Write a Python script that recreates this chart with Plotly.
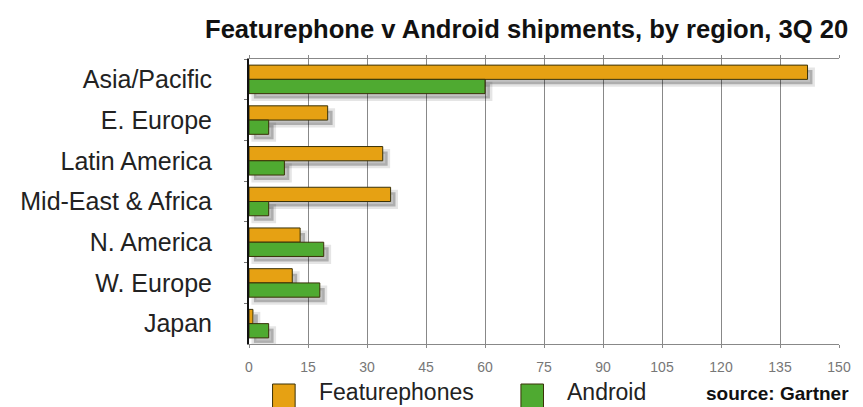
import plotly.graph_objects as go

# ---- data ----
regions = ["Asia/Pacific", "E. Europe", "Latin America", "Mid-East & Africa",
           "N. America", "W. Europe", "Japan"]
featurephones = [142, 20, 34, 36, 13, 11, 1]
android = [60, 5, 9, 5, 19, 18, 5]
series_names = ["Featurephones", "Android"]
x_ticks = [0, 15, 30, 45, 60, 75, 90, 105, 120, 135, 150]
title_text = "Featurephone v Android shipments, by region, 3Q 20"
source_text = "source: Gartner"

# ---- styling ----
W, H = 863, 407
ML, MR, MT, MB = 249, 13, 59, 63
PW, PH = W - ML - MR, H - MT - MB
FONT = "Liberation Sans, Arial, Helvetica, sans-serif"
ORANGE = "#E6A113"
GREEN = "#4FAA31"
SHADOW = "rgba(0,0,0,0.24)"
SHADOW_EDGE = "rgba(0,0,0,0.10)"

def px2x(px):
    return (px - ML) / PW

def px2y(py):
    return (H - MB - py) / PH

xmax = 150.0
ncat = len(regions)
dx_units = 5 * xmax / PW          # shadow offset: 5px right
dy_units = 5 * ncat / PH          # shadow offset: 5px down

fig = go.Figure()

# shadows (base axes, drawn first / underneath)
for vals in (featurephones, android):
    fig.add_trace(go.Bar(
        y=regions, x=vals, orientation="h", xaxis="x", yaxis="y",
        marker=dict(color=SHADOW, line=dict(color=SHADOW_EDGE, width=5)),
        showlegend=False, hoverinfo="skip",
    ))

# main bars (overlay axes)
for name, vals, col in zip(series_names, (featurephones, android), (ORANGE, GREEN)):
    fig.add_trace(go.Bar(
        y=regions, x=vals, orientation="h", name=name, xaxis="x2", yaxis="y2",
        marker=dict(color=col, line=dict(color="#3a3208", width=1)),
        showlegend=False,
    ))

fig.update_layout(
    width=W, height=H,
    margin=dict(l=ML, r=MR, t=MT, b=MB),
    paper_bgcolor="white", plot_bgcolor="white",
    barmode="group", bargap=0.30, bargroupgap=0.0,
    font=dict(family=FONT, color="#222"),
    showlegend=False,
    xaxis=dict(range=[-dx_units, xmax - dx_units], visible=False, fixedrange=True),
    yaxis=dict(range=[ncat - 0.5 - dy_units, -0.5 - dy_units], visible=False,
               type="category", fixedrange=True),
    xaxis2=dict(overlaying="x", range=[0, xmax], tickvals=x_ticks,
                ticktext=[str(v) for v in x_ticks],
                showgrid=True, gridcolor="#888", gridwidth=1.3,
                showline=True, linecolor="#888", linewidth=1.3, mirror="ticks",
                ticks="outside", ticklen=3, tickcolor="#888",
                ticklabelstandoff=7,
                tickfont=dict(size=14, color="#777", family=FONT),
                zeroline=False, side="bottom", anchor="y2"),
    yaxis2=dict(overlaying="y", range=[ncat - 0.5, -0.5], type="category",
                showline=True, linecolor="#111", linewidth=2,
                ticks="outside", tickson="boundaries", ticklen=3, tickcolor="#777",
                ticklabelstandoff=30,
                tickfont=dict(size=25, color="#222", family=FONT),
                showgrid=False, zeroline=False, anchor="x2"),
)

# title
fig.add_annotation(text="<b>" + title_text + "</b>", xref="paper", yref="paper",
                   x=px2x(861), y=px2y(29), xanchor="right", yanchor="middle",
                   showarrow=False, font=dict(size=25.6, color="#111", family=FONT))

# manual legend
legend_items = [(series_names[0], ORANGE, 273, 318), (series_names[1], GREEN, 526, 571)]
for name, col, sx, tx in legend_items:
    fig.add_shape(type="rect", xref="paper", yref="paper",
                  x0=px2x(sx), x1=px2x(sx + 23), y0=px2y(408), y1=px2y(384),
                  fillcolor=col, line=dict(color="#3a3208", width=1))
    fig.add_annotation(text=name, xref="paper", yref="paper",
                       x=px2x(tx), y=px2y(392), xanchor="left", yanchor="middle",
                       showarrow=False, font=dict(size=23, color="#222", family=FONT))

fig.add_annotation(text="<b>" + source_text + "</b>", xref="paper", yref="paper",
                   x=px2x(862), y=px2y(393), xanchor="right", yanchor="middle",
                   showarrow=False, font=dict(size=19, color="#111", family=FONT))

fig.write_html("out.html")
